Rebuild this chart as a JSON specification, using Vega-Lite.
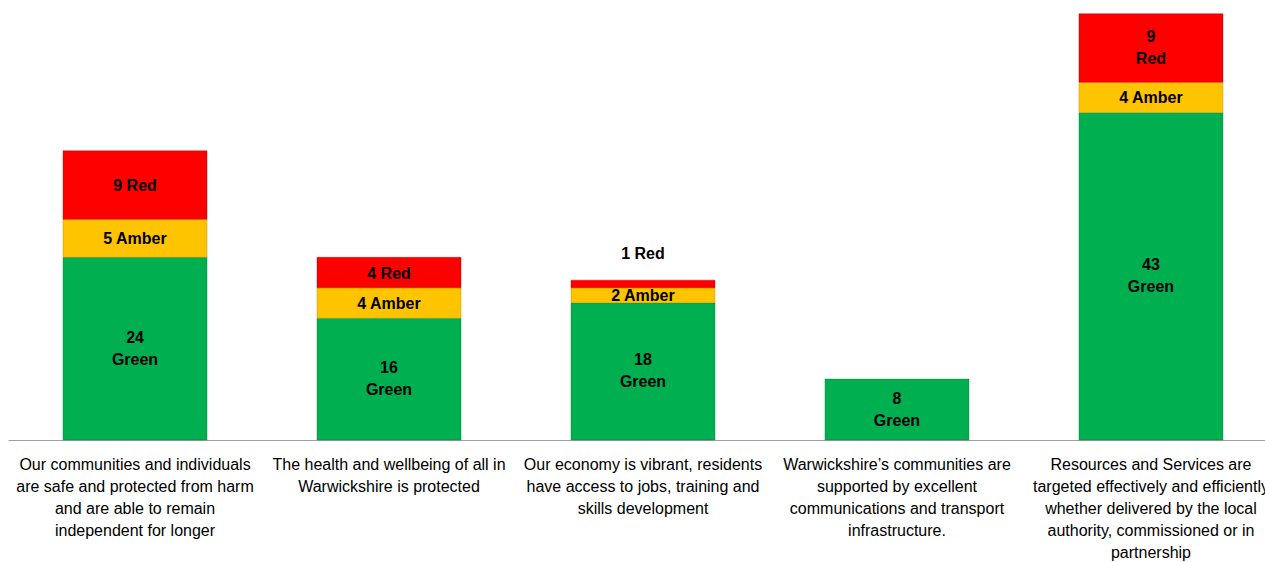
{
  "$schema": "https://vega.github.io/schema/vega-lite/v6.json",
  "width": 1257,
  "height": 440,
  "autosize": {"type": "none"},
  "padding": {"left": 8, "top": 0, "right": 0, "bottom": 122},
  "background": "white",
  "config": {"view": {"stroke": null}, "font": "Liberation Sans"},
  "data": {
    "values": [
      {"cat": "Our communities and individuals|are safe and protected from harm|and are able to remain|independent for longer", "status": "Green", "count": 24, "label": "24|Green"},
      {"cat": "Our communities and individuals|are safe and protected from harm|and are able to remain|independent for longer", "status": "Amber", "count": 5, "label": "5 Amber"},
      {"cat": "Our communities and individuals|are safe and protected from harm|and are able to remain|independent for longer", "status": "Red", "count": 9, "label": "9 Red"},
      {"cat": "The health and wellbeing of all in|Warwickshire is protected", "status": "Green", "count": 16, "label": "16|Green"},
      {"cat": "The health and wellbeing of all in|Warwickshire is protected", "status": "Amber", "count": 4, "label": "4 Amber"},
      {"cat": "The health and wellbeing of all in|Warwickshire is protected", "status": "Red", "count": 4, "label": "4 Red"},
      {"cat": "Our economy is vibrant, residents|have access to jobs, training and|skills development", "status": "Green", "count": 18, "label": "18|Green"},
      {"cat": "Our economy is vibrant, residents|have access to jobs, training and|skills development", "status": "Amber", "count": 2, "label": "2 Amber"},
      {"cat": "Our economy is vibrant, residents|have access to jobs, training and|skills development", "status": "Red", "count": 1, "label": "1 Red"},
      {"cat": "Warwickshire’s communities are|supported by excellent|communications and transport|infrastructure.", "status": "Green", "count": 8, "label": "8|Green"},
      {"cat": "Resources and Services are|targeted effectively and efficiently|whether delivered by the local|authority, commissioned or in|partnership", "status": "Green", "count": 43, "label": "43|Green"},
      {"cat": "Resources and Services are|targeted effectively and efficiently|whether delivered by the local|authority, commissioned or in|partnership", "status": "Amber", "count": 4, "label": "4 Amber"},
      {"cat": "Resources and Services are|targeted effectively and efficiently|whether delivered by the local|authority, commissioned or in|partnership", "status": "Red", "count": 9, "label": "9|Red"}
    ]
  },
  "transform": [
    {"calculate": "datum.status === 'Green' ? 0 : (datum.status === 'Amber' ? 1 : 2)", "as": "ord"},
    {"stack": "count", "groupby": ["cat"], "sort": [{"field": "ord", "order": "ascending"}], "as": ["y0", "y1"]},
    {"calculate": "(datum.y0 + datum.y1) / 2", "as": "mid"}
  ],
  "encoding": {
    "x": {
      "field": "cat",
      "type": "nominal",
      "sort": null,
      "scale": {"paddingInner": 0.433, "paddingOuter": 0.191, "align": 0.567},
      "axis": {
        "title": null,
        "orient": "bottom",
        "labelExpr": "split(datum.label, '|')",
        "labelAngle": 0,
        "labelFont": "Liberation Sans",
        "labelFontSize": 16,
        "labelColor": "#000000",
        "labelLineHeight": 22,
        "labelBaseline": "top",
        "labelPadding": 16,
        "labelLimit": 0,
        "labelOverlap": false,
        "ticks": false,
        "domainColor": "#a0a0a0",
        "domainWidth": 1.2,
        "grid": false
      }
    }
  },
  "layer": [
    {
      "mark": {"type": "bar", "strokeWidth": 1, "strokeOpacity": 0.35},
      "encoding": {
        "y": {"field": "y1", "type": "quantitative", "scale": {"domain": [0, 57.8], "nice": false, "zero": true}, "axis": null},
        "y2": {"field": "y0"},
        "color": {
          "field": "status",
          "type": "nominal",
          "scale": {"domain": ["Green", "Amber", "Red"], "range": ["#00b050", "#ffc400", "#ff0000"]},
          "legend": null
        },
        "stroke": {
          "field": "status",
          "type": "nominal",
          "scale": {"domain": ["Green", "Amber", "Red"], "range": ["#006b30", "#a07a00", "#8a0000"]},
          "legend": null
        }
      }
    },
    {
      "transform": [{"filter": "datum.count >= 2 && indexof(datum.label, '|') < 0"}],
      "mark": {"type": "text", "font": "Liberation Sans", "fontSize": 16, "fontWeight": "bold", "color": "#000000", "baseline": "middle", "dy": 1},
      "encoding": {
        "y": {"field": "mid", "type": "quantitative"},
        "text": {"field": "label"}
      }
    },
    {
      "transform": [{"filter": "datum.count >= 2 && indexof(datum.label, '|') >= 0"}],
      "mark": {"type": "text", "font": "Liberation Sans", "fontSize": 16, "fontWeight": "bold", "color": "#000000", "lineBreak": "|", "lineHeight": 22, "baseline": "middle", "dy": -11},
      "encoding": {
        "y": {"field": "mid", "type": "quantitative"},
        "text": {"field": "label"}
      }
    },
    {
      "transform": [{"filter": "datum.count < 2"}],
      "mark": {"type": "text", "font": "Liberation Sans", "fontSize": 16, "fontWeight": "bold", "color": "#000000", "baseline": "middle", "dy": -26},
      "encoding": {
        "y": {"field": "y1", "type": "quantitative"},
        "text": {"field": "label"}
      }
    }
  ]
}
